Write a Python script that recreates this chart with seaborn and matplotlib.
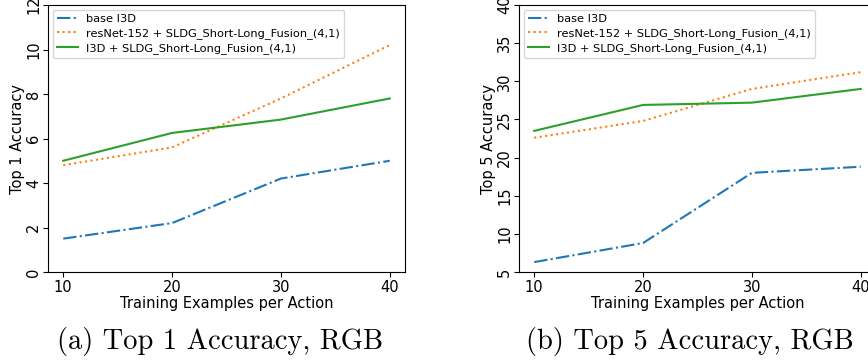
import pandas as pd
import matplotlib.pyplot as plt
import seaborn as sns

# training examples per action
examples = [10, 20, 30, 40]
methods = ['base I3D',
           'resNet-152 + SLDG_Short-Long_Fusion_(4,1)',
           'I3D + SLDG_Short-Long_Fusion_(4,1)']

# top 1 accuracy, RGB
top1_base = [1.5, 2.2, 4.2, 5.0]
top1_resnet = [4.8, 5.6, 7.8, 10.2]
top1_i3d = [5.0, 6.25, 6.85, 7.8]

# top 5 accuracy, RGB
top5_base = [6.3, 8.8, 18.0, 18.8]
top5_resnet = [22.6, 24.8, 29.0, 31.2]
top5_i3d = [23.5, 26.9, 27.2, 29.0]

colors = ['#1f77b4', '#ff7f0e', '#2ca02c']
styles = ['-.', ':', '-']


def make_df(base, resnet, i3d):
    rows = []
    for name, vals in zip(methods, [base, resnet, i3d]):
        for x, v in zip(examples, vals):
            rows.append({'examples': x, 'acc': v, 'method': name})
    return pd.DataFrame(rows)


df1 = make_df(top1_base, top1_resnet, top1_i3d)
df5 = make_df(top5_base, top5_resnet, top5_i3d)

fig = plt.figure(figsize=(8.68, 3.62), dpi=100)
ax1 = fig.add_axes([48 / 868, 90 / 362, 357 / 868, 267 / 362])
ax2 = fig.add_axes([519 / 868, 90 / 362, 357 / 868, 267 / 362])


def draw(ax, df, ylabel, ylim, yticks):
    for name, c, ls in zip(methods, colors, styles):
        sub = df[df['method'] == name]
        sns.lineplot(data=sub, x='examples', y='acc', ax=ax, color=c,
                     linestyle=ls, linewidth=1.5, label=name)
    ax.set_xlim(8.6, 41.4)
    ax.set_ylim(*ylim)
    ax.set_xticks(examples)
    ax.set_yticks(yticks)
    ax.tick_params(axis='both', labelsize=10.5)
    ax.tick_params(axis='x', pad=2)
    ax.tick_params(axis='y', pad=1.5)
    for lab in ax.get_yticklabels():
        lab.set_rotation(90)
        lab.set_va('center')
    ax.set_xlabel('Training Examples per Action', fontsize=10.5, labelpad=1)
    ax.set_ylabel(ylabel, fontsize=10.5, labelpad=1)
    ax.legend(loc='upper left', fontsize=8.2, frameon=True, handlelength=1.8,
              handletextpad=0.7, labelspacing=0.35, borderpad=0.4,
              borderaxespad=0.4)


draw(ax1, df1, 'Top 1 Accuracy', (0, 12), [0, 2, 4, 6, 8, 10, 12])
draw(ax2, df5, 'Top 5 Accuracy', (5, 40), [5, 10, 15, 20, 25, 30, 35, 40])

fig.text(220 / 868, 1 - 342 / 362, '(a) Top 1 Accuracy, RGB', family='cmr10',
         fontsize=20.5, ha='center', va='center')
fig.text(690 / 868, 1 - 342 / 362, '(b) Top 5 Accuracy, RGB', family='cmr10',
         fontsize=20.5, ha='center', va='center')

fig.savefig('out.png', dpi=100)
